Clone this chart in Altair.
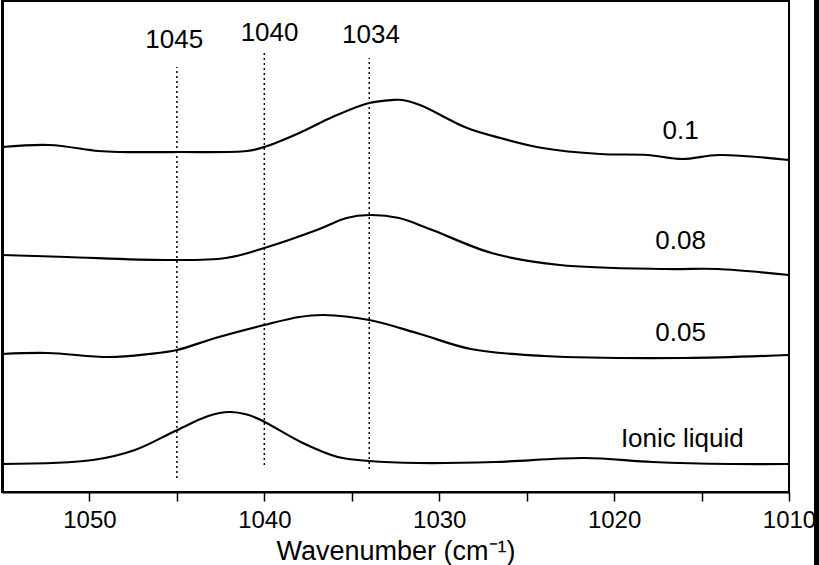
import altair as alt
import pandas as pd

# ---- data (wavenumber, relative absorbance, offset stacked) ----
wn_01 = [1055, 1052.3, 1049.5, 1048.3, 1045, 1041, 1040, 1038, 1036.1, 1034, 1032.7, 1032.1, 1031.1, 1028.4, 1026.5, 1024.1, 1020.8, 1018.1, 1016.1, 1014, 1010]
ab_01 = [345, 347, 341, 340, 340, 341, 345, 359, 375, 389, 392, 392, 387, 364, 354, 344, 338, 337, 333, 337, 332]

wn_008 = [1055, 1051.3, 1045.6, 1042.2, 1040, 1037, 1035.3, 1034, 1032.3, 1030.4, 1027, 1023.1, 1017, 1014.1, 1010]
ab_008 = [237, 235, 232, 234, 244, 262, 274, 277, 274, 262, 239, 227, 223, 223, 217]

wn_005 = [1055, 1052.4, 1048.9, 1046.6, 1045, 1042.8, 1040, 1038, 1036.6, 1034, 1031.1, 1028.2, 1024, 1016, 1010]
ab_005 = [138, 139, 135, 138, 142, 154, 167, 175, 177, 172, 158, 143, 136, 134, 137]

wn_il = [1055, 1049.8, 1047.4, 1045.1, 1043.2, 1042, 1041, 1040.2, 1037.8, 1035.8, 1034, 1031.2, 1026.8, 1021.7, 1017.8, 1013.3, 1010]
ab_il = [28, 32, 42, 61, 76, 80, 77.5, 72, 49, 35, 31, 29, 30, 34, 30, 28, 28]

series_names = ["0.1", "0.08", "0.05", "Ionic liquid"]
series_label_wn = [1016.2, 1016.2, 1016.2, 1016.1]
series_label_ab = [361, 251, 159, 53]

ref_wn = [1045, 1040, 1034]
ref_y1 = [14, 27, 23]
ref_y2 = [425, 439, 434]
ref_text = ["1045", "1040", "1034"]
ref_text_wn = [1045.15, 1039.7, 1033.9]
ref_text_ab = [452, 459, 457]

tick_values = [1050, 1045, 1040, 1035, 1030, 1025, 1020, 1015, 1010]

FONT = "Liberation Sans"

rows = []
for name, wn, ab in zip(series_names, [wn_01, wn_008, wn_005, wn_il], [ab_01, ab_008, ab_005, ab_il]):
    for w, a in zip(wn, ab):
        rows.append({"series": name, "wn": w, "ab": a})
df = pd.DataFrame(rows)

df_rules = pd.DataFrame({"wn": ref_wn, "y1": ref_y1, "y2": ref_y2})
df_reftext = pd.DataFrame({"wn": ref_text_wn, "ab": ref_text_ab, "t": ref_text})
df_labels = pd.DataFrame({"wn": series_label_wn, "ab": series_label_ab, "t": series_names})

x_scale = alt.Scale(domain=[1055, 1010], nice=False, zero=False)
y_scale = alt.Scale(domain=[0, 491], nice=False, zero=False)

x_axis = alt.Axis(
    values=tick_values,
    labelExpr="datum.value % 10 == 0 ? datum.label : ''",
    format="d",
    tickSize=9, tickWidth=1.5, tickColor="black",
    domainColor="black", domainWidth=2,
    labelFont=FONT, labelFontSize=24, labelColor="black", labelPadding=7,
    labelFlush=False, labelOverlap=False, labelBound=False,
    title="Wavenumber (cm⁻¹)", titleFont=FONT, titleFontSize=27,
    titleFontWeight="normal", titleColor="black", titlePadding=6,
    grid=False,
)
y_axis = alt.Axis(labels=False, ticks=False, domainColor="black", domainWidth=3, grid=False, title="")

lines = alt.Chart(df).mark_line(color="black", strokeWidth=2.2, interpolate="catmull-rom").encode(
    x=alt.X("wn:Q", scale=x_scale, axis=x_axis),
    y=alt.Y("ab:Q", scale=y_scale, axis=y_axis),
    detail="series:N",
)

rules = alt.Chart(df_rules).mark_rule(color="black", strokeWidth=1.5, strokeDash=[2, 3]).encode(
    x=alt.X("wn:Q", scale=x_scale),
    y=alt.Y("y1:Q", scale=y_scale),
    y2="y2:Q",
)

reftext = alt.Chart(df_reftext).mark_text(font=FONT, fontSize=26, color="black", align="center", baseline="middle").encode(
    x=alt.X("wn:Q", scale=x_scale),
    y=alt.Y("ab:Q", scale=y_scale),
    text="t:N",
)

labels = alt.Chart(df_labels).mark_text(font=FONT, fontSize=26, color="black", align="center", baseline="middle").encode(
    x=alt.X("wn:Q", scale=x_scale),
    y=alt.Y("ab:Q", scale=y_scale),
    text="t:N",
)

strip = alt.Chart(pd.DataFrame({"a": [0]})).mark_rule(color="black", strokeWidth=5).encode(
    x=alt.value(814.5), y=alt.value(-2), y2=alt.value(566)
)

chart = alt.layer(lines, rules, reftext, labels, strip).properties(
    width=787, height=491,
    padding={"left": 2, "top": 1, "right": 30, "bottom": 73},
    autosize=alt.AutoSizeParams(type="none"),
    background="white",
).configure_view(stroke="black", strokeWidth=2)

chart.save("out.html", embed_options={"renderer": "svg", "actions": False})
